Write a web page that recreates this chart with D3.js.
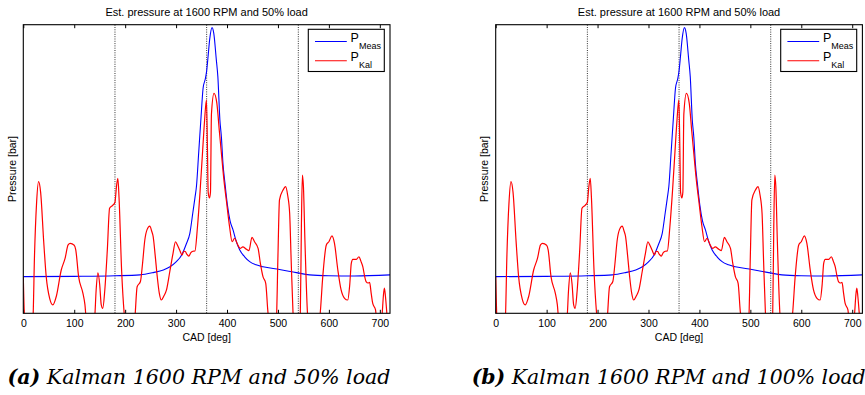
<!DOCTYPE html>
<html>
<head>
<meta charset="utf-8">
<script src="https://cdn.jsdelivr.net/npm/d3@7/dist/d3.min.js"></script>
<style>
  body { margin: 0; background: #fff; }
  svg { display: block; }
  text { font-family: 'Liberation Sans', Arial, sans-serif; fill: #000; }
  .caption { font-family: 'DejaVu Serif', serif; font-style: italic; }
</style>
</head>
<body>
<svg id="chart" width="865" height="395"></svg>
<script>
// measured cylinder pressure (arbitrary units, y axis is unlabeled)
const measCad = [0, 100, 180, 229, 255, 275, 288, 300, 311, 320, 327, 333, 337, 340, 344.5, 349, 353, 357.6,
  360, 362.8, 366, 370.6, 374, 379, 382, 386, 389, 392, 396, 400.8, 406, 411.8, 418, 425, 435, 444.5, 457,
  470.6, 503, 536, 562, 600, 650, 720];
const measP = [12.7, 12.8, 13.0, 13.3, 14.1, 15, 16.1, 17.8, 20.2, 24, 27.7, 35, 40, 44, 56, 68, 78, 81.4,
  84, 89, 95, 99, 97, 87.8, 82, 67, 61, 52, 45, 37.5, 32, 28.9, 25, 21.9, 19.5, 17.9, 16.8,
  16.1, 15.2, 14.1, 13.3, 13.0, 12.9, 13.3];

// Kalman estimate
const kalCad = [0, 3, 10, 19, 22, 26, 30, 34, 40, 45, 52, 58, 65, 74.5, 82, 88, 92, 100, 103, 108.6, 117, 121,
  124, 132, 140, 143, 146.5, 150, 153, 156, 160, 165, 169.4, 176, 180, 183, 185.7, 188, 193, 199, 209, 219,
  223.5, 230, 234, 238.6, 243, 248.4, 252, 255, 259, 263, 267, 271, 276, 281, 287.6, 294, 298.8, 303, 307,
  311.8, 315, 318, 321, 325, 329, 333, 337, 342, 347, 352, 356, 359.6, 361.5, 363, 365.5, 367.5, 369.4,
  374.5, 380, 385, 389, 394, 398.8, 405, 410, 415, 419.6, 426, 431, 438, 443, 449, 454, 461, 465.5, 470.6,
  476, 480, 484, 490, 497, 500, 503, 510, 515, 519, 523, 526, 529.4, 533, 540, 543.9, 546, 548, 550, 553,
  558, 565, 575, 583, 588, 595, 600, 606, 611, 617.6, 624, 630.8, 637, 641, 644, 647, 654, 659, 663, 666.7,
  670, 673, 677, 680, 683, 686, 691.6, 695, 700, 704.7, 707, 709, 711, 713.8, 717, 720];
const kalP = [12.6, -5, -15, -2, 20, 38, 45.6, 42, 25, 12.7, 5, 2.9, 6, 15, 19, 23.7, 24.2, 23.6, 22, 12.7, 7, 3,
  -3, -8, -2, 8, 14, 10, 3, 1.7, 8, 22, 36.4, 37.5, 38.5, 44, 46.8, 40, 15, -2, -12, -2,
  9.2, 11, 17, 25.4, 29, 30.2, 28.5, 26.6, 20, 12.7, 7, 4.6, 6, 8, 14.4, 20.8, 24.8, 23.5, 21.9,
  20.2, 21.5, 21.4, 20.5, 19.8, 21, 21.5, 21.6, 30, 42, 56, 67, 74, 58, 42, 40, 42, 69,
  76.2, 72.8, 63, 55.4, 46, 39, 30, 24.8, 26, 24.3, 22.5, 23, 22.2, 21.7, 26.3, 24.8, 22.5, 17.3, 12.7,
  10.4, 1.1, -6, -10, -2, 20, 39.3, 42.7, 43.9, 41, 34.6, 18, 1, -8, -8, 0, 30, 47.9, 44, 25,
  0, -10, -10, 0, 12.7, 23.7, 24.8, 26.8, 24.2, 15, 8.1, 5.2, 4.6, 10, 17.3, 18.7, 18.7, 19.6, 18, 16.1,
  13, 11, 10.5, 10.7, 7, 3.5, 1.2, -5, -6, 0, 6, 8.7, 6, 0, -8, -10];

const xTicks = [0, 100, 200, 300, 400, 500, 600, 700];
const guideCad = [180, 360, 540];
const plotTitle = 'Est. pressure at 1600 RPM and 50% load';
const legendLabels = [['P', 'Meas'], ['P', 'Kal']];
const captionTags = ['(a)', '(b)'];
const captionTexts = [' Kalman 1600 RPM and 50% load', ' Kalman 1600 RPM and 100% load'];

const panelLeft = [23.3, 495.7];
const captionLeft = [7.5, 471.7];
const captionLength = [383, 394];
const plotTop = 24.7, plotW = 366.7, plotH = 288.6;
const colors = { meas: '#0000ff', kal: '#ff0000' };

const svg = d3.select('#chart');

const x = d3.scaleLinear().domain([0, 720]).range([0, plotW]);
const y = d3.scaleLinear().domain([0, 100]).range([plotH, 0]);

const line = d3.line()
  .x(d => x(d[0]))
  .y(d => y(d[1]))
  .curve(d3.curveMonotoneX);

const measData = measCad.map((c, i) => [c, measP[i]]);
const kalData = kalCad.map((c, i) => [c, kalP[i]]);

svg.append('defs').append('clipPath')
  .attr('id', 'plot-clip')
  .append('rect')
  .attr('width', plotW)
  .attr('height', plotH);

function drawPanel(i) {
  const g = svg.append('g').attr('transform', `translate(${panelLeft[i]},${plotTop})`);

  // title
  g.append('text')
    .attr('x', plotW / 2)
    .attr('y', -8.7)
    .attr('text-anchor', 'middle')
    .style('font-size', '11px')
    .text(plotTitle);

  // x axis with inward ticks, labels below
  const xAxis = g.append('g')
    .attr('transform', `translate(0,${plotH})`)
    .call(d3.axisBottom(x).tickValues(xTicks).tickSizeInner(-3.5).tickSizeOuter(0).tickPadding(6.4));
  xAxis.select('.domain').remove();
  xAxis.selectAll('.tick line').attr('stroke', '#000');
  xAxis.selectAll('.tick text')
    .style('font-family', "'Liberation Sans', Arial, sans-serif")
    .style('font-size', '10.5px')
    .attr('fill', '#000');

  // mirrored ticks on top
  const topAxis = g.append('g')
    .call(d3.axisTop(x).tickValues(xTicks).tickSizeInner(-3.5).tickSizeOuter(0).tickFormat(''));
  topAxis.select('.domain').remove();
  topAxis.selectAll('.tick line').attr('stroke', '#000');

  // axis labels
  g.append('text')
    .attr('x', plotW / 2)
    .attr('y', plotH + 27.5)
    .attr('text-anchor', 'middle')
    .style('font-size', '10.5px')
    .text('CAD [deg]');

  g.append('text')
    .attr('transform', `translate(-7.3,${plotH / 2}) rotate(-90)`)
    .attr('text-anchor', 'middle')
    .style('font-size', '10.5px')
    .text('Pressure [bar]');

  // dotted guides at 180/360/540
  g.selectAll('.guide')
    .data(guideCad)
    .enter()
    .append('line')
    .attr('class', 'guide')
    .attr('x1', d => x(d))
    .attr('x2', d => x(d))
    .attr('y1', 0)
    .attr('y2', plotH)
    .attr('stroke', '#333')
    .attr('stroke-width', 1)
    .attr('stroke-dasharray', '1,1.3');

  const lines = g.append('g').attr('clip-path', 'url(#plot-clip)');

  lines.append('path')
    .datum(measData)
    .attr('d', line)
    .attr('fill', 'none')
    .attr('stroke', colors.meas)
    .attr('stroke-width', 1.1);

  lines.append('path')
    .datum(kalData)
    .attr('d', line)
    .attr('fill', 'none')
    .attr('stroke', colors.kal)
    .attr('stroke-width', 1.2);

  // axes box
  g.append('rect')
    .attr('width', plotW)
    .attr('height', plotH)
    .attr('fill', 'none')
    .attr('stroke', '#000')
    .attr('stroke-width', 1.1);

  // legend
  const lg = g.append('g').attr('transform', `translate(${plotW - 81.7},4.6)`);
  lg.append('rect')
    .attr('width', 76)
    .attr('height', 42.2)
    .attr('fill', '#fff')
    .attr('stroke', '#000')
    .attr('stroke-width', 1.1);
  [colors.meas, colors.kal].forEach((c, k) => {
    const ly = 12.2 + k * 19.2;
    lg.append('line')
      .attr('x1', 6.7).attr('x2', 38.5)
      .attr('y1', ly).attr('y2', ly)
      .attr('stroke', c)
      .attr('stroke-width', 1.1);
    const t = lg.append('text')
      .attr('x', 42.3)
      .attr('y', ly + 0.8)
      .style('font-size', '12.5px');
    t.append('tspan').text(legendLabels[k][0]);
    t.append('tspan')
      .attr('dy', 7)
      .style('font-size', '9px')
      .text(legendLabels[k][1]);
  });

  // caption
  const cap = svg.append('text')
    .attr('class', 'caption')
    .attr('x', captionLeft[i])
    .attr('y', 384)
    .attr('textLength', captionLength[i])
    .attr('lengthAdjust', 'spacingAndGlyphs')
    .style('font-size', '20px');
  cap.append('tspan').style('font-weight', 'bold').text(captionTags[i]);
  cap.append('tspan').text(captionTexts[i]);
}

drawPanel(0);
drawPanel(1);
</script>
</body>
</html>
